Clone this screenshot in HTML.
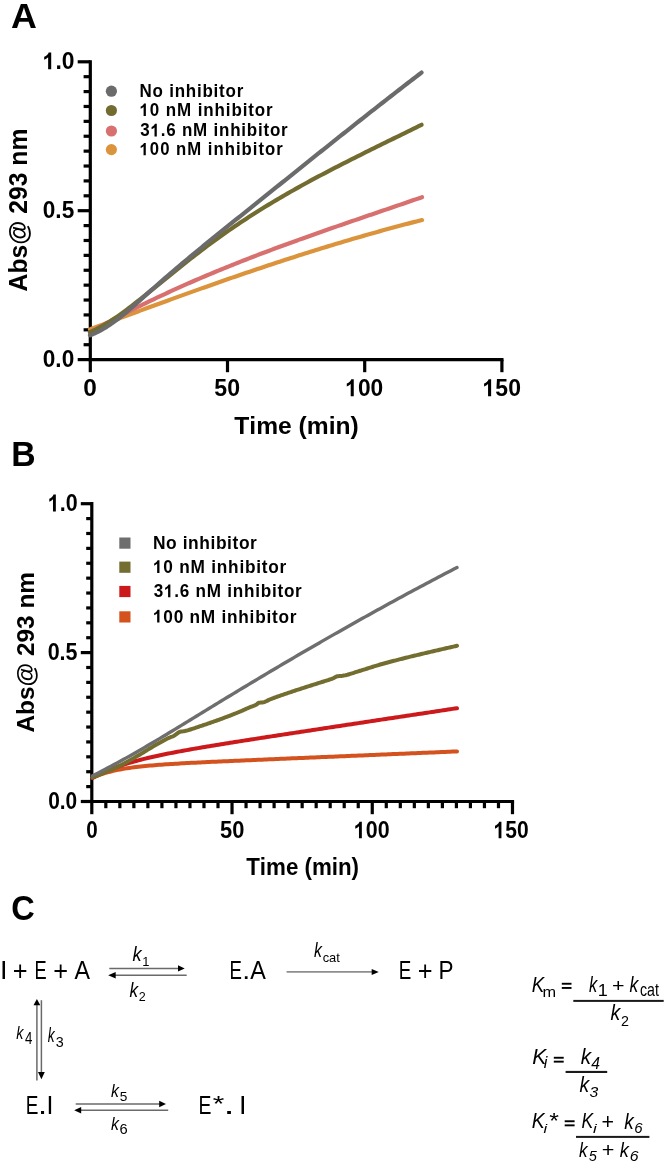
<!DOCTYPE html>
<html><head><meta charset="utf-8"><style>
html,body{margin:0;padding:0;background:#fff;}
svg{display:block;font-family:"Liberation Sans",sans-serif;will-change:transform;font-kerning:none;}
</style></head><body>
<svg width="667" height="1164" viewBox="0 0 667 1164">
<rect width="667" height="1164" fill="#fff"/>
<g id="A">
<text transform="translate(11.10,27.70) scale(1.0435,1)" font-size="34.33" font-weight="bold" font-style="normal" fill="#000">A</text>
<line x1="90.3" y1="60.20" x2="90.3" y2="361.20" stroke="#000" stroke-width="3.2"/>
<line x1="88.7" y1="359.6" x2="503.50" y2="359.6" stroke="#000" stroke-width="3.2"/>
<line x1="77.7" y1="359.60" x2="90.3" y2="359.60" stroke="#000" stroke-width="3.2"/>
<line x1="83.6" y1="344.71" x2="90.3" y2="344.71" stroke="#000" stroke-width="3.2"/>
<line x1="83.6" y1="329.82" x2="90.3" y2="329.82" stroke="#000" stroke-width="3.2"/>
<line x1="83.6" y1="314.93" x2="90.3" y2="314.93" stroke="#000" stroke-width="3.2"/>
<line x1="83.6" y1="300.04" x2="90.3" y2="300.04" stroke="#000" stroke-width="3.2"/>
<line x1="83.6" y1="285.15" x2="90.3" y2="285.15" stroke="#000" stroke-width="3.2"/>
<line x1="83.6" y1="270.26" x2="90.3" y2="270.26" stroke="#000" stroke-width="3.2"/>
<line x1="83.6" y1="255.37" x2="90.3" y2="255.37" stroke="#000" stroke-width="3.2"/>
<line x1="83.6" y1="240.48" x2="90.3" y2="240.48" stroke="#000" stroke-width="3.2"/>
<line x1="83.6" y1="225.59" x2="90.3" y2="225.59" stroke="#000" stroke-width="3.2"/>
<line x1="77.7" y1="210.70" x2="90.3" y2="210.70" stroke="#000" stroke-width="3.2"/>
<line x1="83.6" y1="195.81" x2="90.3" y2="195.81" stroke="#000" stroke-width="3.2"/>
<line x1="83.6" y1="180.92" x2="90.3" y2="180.92" stroke="#000" stroke-width="3.2"/>
<line x1="83.6" y1="166.03" x2="90.3" y2="166.03" stroke="#000" stroke-width="3.2"/>
<line x1="83.6" y1="151.14" x2="90.3" y2="151.14" stroke="#000" stroke-width="3.2"/>
<line x1="83.6" y1="136.25" x2="90.3" y2="136.25" stroke="#000" stroke-width="3.2"/>
<line x1="83.6" y1="121.36" x2="90.3" y2="121.36" stroke="#000" stroke-width="3.2"/>
<line x1="83.6" y1="106.47" x2="90.3" y2="106.47" stroke="#000" stroke-width="3.2"/>
<line x1="83.6" y1="91.58" x2="90.3" y2="91.58" stroke="#000" stroke-width="3.2"/>
<line x1="83.6" y1="76.69" x2="90.3" y2="76.69" stroke="#000" stroke-width="3.2"/>
<line x1="77.7" y1="61.80" x2="90.3" y2="61.80" stroke="#000" stroke-width="3.2"/>
<line x1="90.30" y1="359.6" x2="90.30" y2="372.2" stroke="#000" stroke-width="3.2"/>
<line x1="227.50" y1="359.6" x2="227.50" y2="372.2" stroke="#000" stroke-width="3.2"/>
<line x1="364.70" y1="359.6" x2="364.70" y2="372.2" stroke="#000" stroke-width="3.2"/>
<line x1="501.90" y1="359.6" x2="501.90" y2="372.2" stroke="#000" stroke-width="3.2"/>
<g transform="translate(42.67,69.36) scale(0.9480,1)" fill="#000">
<text font-size="24.17" font-weight="bold" font-style="normal"> .0</text>
<path transform="translate(0.000,0) scale(0.01180,-0.01180)" d="M763,0 L489,0 L489,1032 C389,938 270,868 135,825 L135,1073 C206,1096 283,1140 368,1206 C452,1272 510,1348 541,1434 L763,1434 Z"/>
</g>
<text transform="translate(42.80,218.45) scale(0.9193,1)" font-size="24.59" font-weight="bold" font-style="normal" fill="#000">0.5</text>
<text transform="translate(42.80,367.46) scale(0.9404,1)" font-size="24.03" font-weight="bold" font-style="normal" fill="#000">0.0</text>
<text transform="translate(83.22,396.16) scale(1.0163,1)" font-size="24.03" font-weight="bold" font-style="normal" fill="#000">0</text>
<text transform="translate(214.35,396.16) scale(0.9627,1)" font-size="24.03" font-weight="bold" font-style="normal" fill="#000">50</text>
<g transform="translate(345.28,396.16) scale(0.9467,1)" fill="#000">
<text font-size="24.03" font-weight="bold" font-style="normal"> 00</text>
<path transform="translate(0.000,0) scale(0.01173,-0.01173)" d="M763,0 L489,0 L489,1032 C389,938 270,868 135,825 L135,1073 C206,1096 283,1140 368,1206 C452,1272 510,1348 541,1434 L763,1434 Z"/>
</g>
<g transform="translate(482.56,396.16) scale(0.9573,1)" fill="#000">
<text font-size="24.03" font-weight="bold" font-style="normal"> 50</text>
<path transform="translate(0.000,0) scale(0.01173,-0.01173)" d="M763,0 L489,0 L489,1032 C389,938 270,868 135,825 L135,1073 C206,1096 283,1140 368,1206 C452,1272 510,1348 541,1434 L763,1434 Z"/>
</g>
<text transform="translate(234.29,434.20) scale(1.0145,1)" font-size="24.29" font-weight="bold" font-style="normal" fill="#000">Time (min)</text>
<text transform="translate(27.00,291.42) rotate(-90) scale(0.9445,1)" font-size="26.18" font-weight="bold" font-style="normal">Abs@ 293 nm</text>
<circle cx="111.4" cy="91.2" r="5.6" fill="#6b6b6b"/>
<text transform="translate(139.45,96.90) scale(0.9500,1)" font-size="17.89" font-weight="bold" font-style="normal" fill="#000" letter-spacing="0.818">No inhibitor</text>
<circle cx="111.4" cy="110.5" r="5.6" fill="#726c30"/>
<g transform="translate(139.54,116.00) scale(0.9500,1)" fill="#000">
<text font-size="17.89" font-weight="bold" font-style="normal" letter-spacing="0.927"> 0 nM inhibitor</text>
<path transform="translate(0.000,0) scale(0.00874,-0.00874)" d="M763,0 L489,0 L489,1032 C389,938 270,868 135,825 L135,1073 C206,1096 283,1140 368,1206 C452,1272 510,1348 541,1434 L763,1434 Z"/>
</g>
<circle cx="111.4" cy="131" r="5.6" fill="#d87070"/>
<g transform="translate(140.22,136.40) scale(0.9500,1)" fill="#000">
<text font-size="17.89" font-weight="bold" font-style="normal" letter-spacing="0.822">3 .6 nM inhibitor</text>
<path transform="translate(10.773,0) scale(0.00874,-0.00874)" d="M763,0 L489,0 L489,1032 C389,938 270,868 135,825 L135,1073 C206,1096 283,1140 368,1206 C452,1272 510,1348 541,1434 L763,1434 Z"/>
</g>
<circle cx="111.4" cy="149.6" r="5.6" fill="#dc943c"/>
<g transform="translate(139.56,155.20) scale(0.9500,1)" fill="#000">
<text font-size="17.60" font-weight="bold" font-style="normal" letter-spacing="1.052"> 00 nM inhibitor</text>
<path transform="translate(0.000,0) scale(0.00859,-0.00859)" d="M763,0 L489,0 L489,1032 C389,938 270,868 135,825 L135,1073 C206,1096 283,1140 368,1206 C452,1272 510,1348 541,1434 L763,1434 Z"/>
</g>
<path d="M90.00,329.35 L92.79,328.30 L95.58,327.26 L98.37,326.21 L101.16,325.16 L103.95,324.12 L106.74,323.07 L109.53,322.03 L112.32,320.99 L115.11,319.95 L117.90,318.91 L120.69,317.87 L123.48,316.83 L126.27,315.79 L129.06,314.76 L131.85,313.72 L134.64,312.69 L137.43,311.66 L140.22,310.63 L143.01,309.60 L145.80,308.57 L148.59,307.55 L151.38,306.52 L154.17,305.50 L156.96,304.48 L159.75,303.46 L162.54,302.44 L165.33,301.42 L168.12,300.41 L170.91,299.40 L173.70,298.39 L176.49,297.38 L179.28,296.37 L182.07,295.37 L184.86,294.36 L187.65,293.36 L190.44,292.36 L193.23,291.37 L196.02,290.37 L198.81,289.38 L201.60,288.39 L204.39,287.40 L207.18,286.41 L209.97,285.43 L212.76,284.45 L215.55,283.47 L218.34,282.49 L221.13,281.52 L223.92,280.54 L226.71,279.57 L229.50,278.61 L232.29,277.64 L235.08,276.68 L237.87,275.72 L240.66,274.77 L243.45,273.81 L246.24,272.86 L249.03,271.91 L251.82,270.97 L254.61,270.02 L257.39,269.08 L260.18,268.15 L262.97,267.21 L265.76,266.28 L268.55,265.36 L271.34,264.43 L274.13,263.51 L276.92,262.59 L279.71,261.67 L282.50,260.76 L285.29,259.85 L288.08,258.95 L290.87,258.05 L293.66,257.15 L296.45,256.25 L299.24,255.36 L302.03,254.47 L304.82,253.58 L307.61,252.70 L310.40,251.82 L313.19,250.95 L315.98,250.08 L318.77,249.21 L321.56,248.35 L324.35,247.49 L327.14,246.63 L329.93,245.78 L332.72,244.93 L335.51,244.09 L338.30,243.24 L341.09,242.41 L343.88,241.57 L346.67,240.75 L349.46,239.92 L352.25,239.10 L355.04,238.28 L357.83,237.47 L360.62,236.66 L363.41,235.86 L366.20,235.06 L368.99,234.26 L371.78,233.47 L374.57,232.69 L377.36,231.90 L380.15,231.13 L382.94,230.35 L385.73,229.59 L388.52,228.82 L391.31,228.06 L394.10,227.31 L396.89,226.56 L399.68,225.81 L402.47,225.07 L405.26,224.33 L408.05,223.60 L410.84,222.88 L413.63,222.15 L416.42,221.44 L419.21,220.73 L422.00,220.02" fill="none" stroke="#dc943c" stroke-width="4.2" stroke-linejoin="round" stroke-linecap="round"/>
<path d="M90.00,332.35 L92.79,330.78 L95.58,329.22 L98.37,327.68 L101.16,326.15 L103.95,324.62 L106.74,323.11 L109.53,321.61 L112.32,320.12 L115.11,318.65 L117.90,317.18 L120.69,315.72 L123.48,314.28 L126.27,312.84 L129.06,311.42 L131.85,310.00 L134.64,308.60 L137.43,307.20 L140.22,305.82 L143.01,304.45 L145.80,303.08 L148.59,301.72 L151.38,300.38 L154.17,299.04 L156.96,297.72 L159.75,296.40 L162.54,295.09 L165.33,293.79 L168.12,292.50 L170.91,291.21 L173.70,289.94 L176.49,288.67 L179.28,287.42 L182.07,286.17 L184.86,284.93 L187.65,283.69 L190.44,282.47 L193.23,281.25 L196.02,280.04 L198.81,278.84 L201.60,277.65 L204.39,276.46 L207.18,275.28 L209.97,274.11 L212.76,272.94 L215.55,271.78 L218.34,270.63 L221.13,269.48 L223.92,268.34 L226.71,267.21 L229.50,266.08 L232.29,264.96 L235.08,263.85 L237.87,262.74 L240.66,261.64 L243.45,260.54 L246.24,259.45 L249.03,258.37 L251.82,257.29 L254.61,256.21 L257.39,255.14 L260.18,254.08 L262.97,253.02 L265.76,251.97 L268.55,250.92 L271.34,249.87 L274.13,248.83 L276.92,247.80 L279.71,246.76 L282.50,245.74 L285.29,244.71 L288.08,243.69 L290.87,242.68 L293.66,241.67 L296.45,240.66 L299.24,239.65 L302.03,238.65 L304.82,237.65 L307.61,236.66 L310.40,235.67 L313.19,234.68 L315.98,233.69 L318.77,232.71 L321.56,231.73 L324.35,230.75 L327.14,229.77 L329.93,228.80 L332.72,227.83 L335.51,226.86 L338.30,225.89 L341.09,224.93 L343.88,223.96 L346.67,223.00 L349.46,222.04 L352.25,221.08 L355.04,220.12 L357.83,219.17 L360.62,218.21 L363.41,217.25 L366.20,216.30 L368.99,215.35 L371.78,214.39 L374.57,213.44 L377.36,212.49 L380.15,211.54 L382.94,210.59 L385.73,209.63 L388.52,208.68 L391.31,207.73 L394.10,206.78 L396.89,205.83 L399.68,204.87 L402.47,203.92 L405.26,202.96 L408.05,202.01 L410.84,201.05 L413.63,200.09 L416.42,199.13 L419.21,198.17 L422.00,197.21" fill="none" stroke="#d87070" stroke-width="4.2" stroke-linejoin="round" stroke-linecap="round"/>
<path d="M90.00,332.18 L92.79,330.93 L95.57,329.59 L98.36,328.16 L101.14,326.65 L103.93,325.07 L106.71,323.41 L109.50,321.68 L112.29,319.88 L115.07,318.03 L117.86,316.12 L120.64,314.16 L123.43,312.14 L126.21,310.09 L129.00,308.00 L131.79,305.87 L134.57,303.71 L137.36,301.52 L140.14,299.31 L142.93,297.08 L145.71,294.84 L148.50,292.59 L151.29,290.33 L154.07,288.07 L156.86,285.81 L159.64,283.55 L162.43,281.29 L165.21,279.03 L168.00,276.78 L170.79,274.52 L173.57,272.28 L176.36,270.04 L179.14,267.81 L181.93,265.58 L184.71,263.37 L187.50,261.17 L190.29,258.97 L193.07,256.80 L195.86,254.63 L198.64,252.49 L201.43,250.35 L204.21,248.24 L207.00,246.15 L209.79,244.07 L212.57,242.02 L215.36,239.98 L218.14,237.97 L220.93,235.98 L223.71,234.00 L226.50,232.05 L229.29,230.12 L232.07,228.20 L234.86,226.31 L237.64,224.43 L240.43,222.57 L243.21,220.73 L246.00,218.90 L248.79,217.09 L251.57,215.30 L254.36,213.53 L257.14,211.77 L259.93,210.02 L262.71,208.30 L265.50,206.58 L268.29,204.88 L271.07,203.20 L273.86,201.53 L276.64,199.88 L279.43,198.23 L282.21,196.60 L285.00,194.99 L287.79,193.38 L290.57,191.79 L293.36,190.21 L296.14,188.64 L298.93,187.09 L301.71,185.54 L304.50,184.00 L307.29,182.48 L310.07,180.96 L312.86,179.46 L315.64,177.96 L318.43,176.47 L321.21,174.99 L324.00,173.52 L326.79,172.06 L329.57,170.60 L332.36,169.16 L335.14,167.71 L337.93,166.28 L340.71,164.85 L343.50,163.43 L346.29,162.01 L349.07,160.60 L351.86,159.20 L354.64,157.80 L357.43,156.40 L360.21,155.01 L363.00,153.62 L365.79,152.24 L368.57,150.85 L371.36,149.47 L374.14,148.10 L376.93,146.72 L379.71,145.35 L382.50,143.98 L385.29,142.61 L388.07,141.24 L390.86,139.87 L393.64,138.51 L396.43,137.14 L399.21,135.77 L402.00,134.40 L404.79,133.03 L407.57,131.66 L410.36,130.28 L413.14,128.91 L415.93,127.53 L418.71,126.15 L421.50,124.77" fill="none" stroke="#726c30" stroke-width="4.2" stroke-linejoin="round" stroke-linecap="round"/>
<path d="M90.00,335.25 L92.79,334.19 L95.57,332.98 L98.36,331.63 L101.14,330.15 L103.93,328.55 L106.71,326.84 L109.50,325.01 L112.29,323.09 L115.07,321.08 L117.86,318.98 L120.64,316.81 L123.43,314.57 L126.21,312.27 L129.00,309.92 L131.79,307.52 L134.57,305.09 L137.36,302.63 L140.14,300.14 L142.93,297.65 L145.71,295.15 L148.50,292.65 L151.29,290.17 L154.07,287.70 L156.86,285.24 L159.64,282.80 L162.43,280.37 L165.21,277.95 L168.00,275.55 L170.79,273.15 L173.57,270.77 L176.36,268.40 L179.14,266.05 L181.93,263.70 L184.71,261.36 L187.50,259.03 L190.29,256.71 L193.07,254.40 L195.86,252.10 L198.64,249.81 L201.43,247.52 L204.21,245.24 L207.00,242.96 L209.79,240.70 L212.57,238.43 L215.36,236.18 L218.14,233.92 L220.93,231.68 L223.71,229.43 L226.50,227.19 L229.29,224.95 L232.07,222.71 L234.86,220.48 L237.64,218.25 L240.43,216.02 L243.21,213.78 L246.00,211.55 L248.79,209.32 L251.57,207.09 L254.36,204.86 L257.14,202.63 L259.93,200.39 L262.71,198.16 L265.50,195.92 L268.29,193.69 L271.07,191.45 L273.86,189.22 L276.64,186.98 L279.43,184.75 L282.21,182.51 L285.00,180.27 L287.79,178.04 L290.57,175.80 L293.36,173.57 L296.14,171.33 L298.93,169.10 L301.71,166.87 L304.50,164.63 L307.29,162.40 L310.07,160.17 L312.86,157.94 L315.64,155.71 L318.43,153.48 L321.21,151.26 L324.00,149.03 L326.79,146.81 L329.57,144.58 L332.36,142.36 L335.14,140.14 L337.93,137.93 L340.71,135.71 L343.50,133.50 L346.29,131.28 L349.07,129.07 L351.86,126.86 L354.64,124.66 L357.43,122.45 L360.21,120.25 L363.00,118.05 L365.79,115.86 L368.57,113.66 L371.36,111.47 L374.14,109.28 L376.93,107.10 L379.71,104.92 L382.50,102.74 L385.29,100.56 L388.07,98.39 L390.86,96.22 L393.64,94.05 L396.43,91.89 L399.21,89.73 L402.00,87.57 L404.79,85.42 L407.57,83.27 L410.36,81.13 L413.14,78.98 L415.93,76.85 L418.71,74.72 L421.50,72.59" fill="none" stroke="#6b6b6b" stroke-width="4.2" stroke-linejoin="round" stroke-linecap="round"/>
</g>
<g id="B">
<text transform="translate(11.22,465.90) scale(0.9674,1)" font-size="34.91" font-weight="bold" font-style="normal" fill="#000">B</text>
<line x1="91.8" y1="502.10" x2="91.8" y2="803.10" stroke="#000" stroke-width="3.2"/>
<line x1="90.2" y1="801.5" x2="514.09" y2="801.5" stroke="#000" stroke-width="3.2"/>
<line x1="80.8" y1="801.50" x2="91.8" y2="801.50" stroke="#000" stroke-width="3.2"/>
<line x1="86.2" y1="786.61" x2="91.8" y2="786.61" stroke="#000" stroke-width="3.2"/>
<line x1="86.2" y1="771.72" x2="91.8" y2="771.72" stroke="#000" stroke-width="3.2"/>
<line x1="86.2" y1="756.83" x2="91.8" y2="756.83" stroke="#000" stroke-width="3.2"/>
<line x1="86.2" y1="741.94" x2="91.8" y2="741.94" stroke="#000" stroke-width="3.2"/>
<line x1="86.2" y1="727.05" x2="91.8" y2="727.05" stroke="#000" stroke-width="3.2"/>
<line x1="86.2" y1="712.16" x2="91.8" y2="712.16" stroke="#000" stroke-width="3.2"/>
<line x1="86.2" y1="697.27" x2="91.8" y2="697.27" stroke="#000" stroke-width="3.2"/>
<line x1="86.2" y1="682.38" x2="91.8" y2="682.38" stroke="#000" stroke-width="3.2"/>
<line x1="86.2" y1="667.49" x2="91.8" y2="667.49" stroke="#000" stroke-width="3.2"/>
<line x1="80.8" y1="652.60" x2="91.8" y2="652.60" stroke="#000" stroke-width="3.2"/>
<line x1="86.2" y1="637.71" x2="91.8" y2="637.71" stroke="#000" stroke-width="3.2"/>
<line x1="86.2" y1="622.82" x2="91.8" y2="622.82" stroke="#000" stroke-width="3.2"/>
<line x1="86.2" y1="607.93" x2="91.8" y2="607.93" stroke="#000" stroke-width="3.2"/>
<line x1="86.2" y1="593.04" x2="91.8" y2="593.04" stroke="#000" stroke-width="3.2"/>
<line x1="86.2" y1="578.15" x2="91.8" y2="578.15" stroke="#000" stroke-width="3.2"/>
<line x1="86.2" y1="563.26" x2="91.8" y2="563.26" stroke="#000" stroke-width="3.2"/>
<line x1="86.2" y1="548.37" x2="91.8" y2="548.37" stroke="#000" stroke-width="3.2"/>
<line x1="86.2" y1="533.48" x2="91.8" y2="533.48" stroke="#000" stroke-width="3.2"/>
<line x1="86.2" y1="518.59" x2="91.8" y2="518.59" stroke="#000" stroke-width="3.2"/>
<line x1="80.8" y1="503.70" x2="91.8" y2="503.70" stroke="#000" stroke-width="3.2"/>
<line x1="91.80" y1="801.5" x2="91.80" y2="814.2" stroke="#000" stroke-width="3.2"/>
<line x1="105.82" y1="801.5" x2="105.82" y2="808.2" stroke="#000" stroke-width="3.2"/>
<line x1="119.85" y1="801.5" x2="119.85" y2="808.2" stroke="#000" stroke-width="3.2"/>
<line x1="133.87" y1="801.5" x2="133.87" y2="808.2" stroke="#000" stroke-width="3.2"/>
<line x1="147.89" y1="801.5" x2="147.89" y2="808.2" stroke="#000" stroke-width="3.2"/>
<line x1="161.92" y1="801.5" x2="161.92" y2="808.2" stroke="#000" stroke-width="3.2"/>
<line x1="175.94" y1="801.5" x2="175.94" y2="808.2" stroke="#000" stroke-width="3.2"/>
<line x1="189.96" y1="801.5" x2="189.96" y2="808.2" stroke="#000" stroke-width="3.2"/>
<line x1="203.98" y1="801.5" x2="203.98" y2="808.2" stroke="#000" stroke-width="3.2"/>
<line x1="218.01" y1="801.5" x2="218.01" y2="808.2" stroke="#000" stroke-width="3.2"/>
<line x1="232.03" y1="801.5" x2="232.03" y2="814.2" stroke="#000" stroke-width="3.2"/>
<line x1="246.05" y1="801.5" x2="246.05" y2="808.2" stroke="#000" stroke-width="3.2"/>
<line x1="260.08" y1="801.5" x2="260.08" y2="808.2" stroke="#000" stroke-width="3.2"/>
<line x1="274.10" y1="801.5" x2="274.10" y2="808.2" stroke="#000" stroke-width="3.2"/>
<line x1="288.12" y1="801.5" x2="288.12" y2="808.2" stroke="#000" stroke-width="3.2"/>
<line x1="302.15" y1="801.5" x2="302.15" y2="808.2" stroke="#000" stroke-width="3.2"/>
<line x1="316.17" y1="801.5" x2="316.17" y2="808.2" stroke="#000" stroke-width="3.2"/>
<line x1="330.19" y1="801.5" x2="330.19" y2="808.2" stroke="#000" stroke-width="3.2"/>
<line x1="344.21" y1="801.5" x2="344.21" y2="808.2" stroke="#000" stroke-width="3.2"/>
<line x1="358.24" y1="801.5" x2="358.24" y2="808.2" stroke="#000" stroke-width="3.2"/>
<line x1="372.26" y1="801.5" x2="372.26" y2="814.2" stroke="#000" stroke-width="3.2"/>
<line x1="386.28" y1="801.5" x2="386.28" y2="808.2" stroke="#000" stroke-width="3.2"/>
<line x1="400.31" y1="801.5" x2="400.31" y2="808.2" stroke="#000" stroke-width="3.2"/>
<line x1="414.33" y1="801.5" x2="414.33" y2="808.2" stroke="#000" stroke-width="3.2"/>
<line x1="428.35" y1="801.5" x2="428.35" y2="808.2" stroke="#000" stroke-width="3.2"/>
<line x1="442.38" y1="801.5" x2="442.38" y2="808.2" stroke="#000" stroke-width="3.2"/>
<line x1="456.40" y1="801.5" x2="456.40" y2="808.2" stroke="#000" stroke-width="3.2"/>
<line x1="470.42" y1="801.5" x2="470.42" y2="808.2" stroke="#000" stroke-width="3.2"/>
<line x1="484.44" y1="801.5" x2="484.44" y2="808.2" stroke="#000" stroke-width="3.2"/>
<line x1="498.47" y1="801.5" x2="498.47" y2="808.2" stroke="#000" stroke-width="3.2"/>
<line x1="512.49" y1="801.5" x2="512.49" y2="814.2" stroke="#000" stroke-width="3.2"/>
<g transform="translate(47.86,511.46) scale(0.8818,1)" fill="#000">
<text font-size="24.31" font-weight="bold" font-style="normal"> .0</text>
<path transform="translate(0.000,0) scale(0.01187,-0.01187)" d="M763,0 L489,0 L489,1032 C389,938 270,868 135,825 L135,1073 C206,1096 283,1140 368,1206 C452,1272 510,1348 541,1434 L763,1434 Z"/>
</g>
<text transform="translate(47.64,659.96) scale(0.9098,1)" font-size="23.60" font-weight="bold" font-style="normal" fill="#000">0.5</text>
<text transform="translate(48.16,809.06) scale(0.8808,1)" font-size="23.75" font-weight="bold" font-style="normal" fill="#000">0.0</text>
<text transform="translate(86.37,838.36) scale(0.8637,1)" font-size="23.89" font-weight="bold" font-style="normal" fill="#000">0</text>
<text transform="translate(220.09,838.36) scale(0.9160,1)" font-size="23.89" font-weight="bold" font-style="normal" fill="#000">50</text>
<g transform="translate(353.86,838.36) scale(0.8961,1)" fill="#000">
<text font-size="23.89" font-weight="bold" font-style="normal"> 00</text>
<path transform="translate(0.000,0) scale(0.01166,-0.01166)" d="M763,0 L489,0 L489,1032 C389,938 270,868 135,825 L135,1073 C206,1096 283,1140 368,1206 C452,1272 510,1348 541,1434 L763,1434 Z"/>
</g>
<g transform="translate(493.59,838.36) scale(0.8801,1)" fill="#000">
<text font-size="23.89" font-weight="bold" font-style="normal"> 50</text>
<path transform="translate(0.000,0) scale(0.01166,-0.01166)" d="M763,0 L489,0 L489,1032 C389,938 270,868 135,825 L135,1073 C206,1096 283,1140 368,1206 C452,1272 510,1348 541,1434 L763,1434 Z"/>
</g>
<text transform="translate(246.22,875.30) scale(0.9085,1)" font-size="24.58" font-weight="bold" font-style="normal" fill="#000">Time (min)</text>
<text transform="translate(33.50,732.61) rotate(-90) scale(1.0035,1)" font-size="24.29" font-weight="bold" font-style="normal">Abs@ 293 nm</text>
<rect x="119.30" y="537.50" width="11.2" height="11.2" fill="#6e6e6e"/>
<text transform="translate(152.92,549.00) scale(0.9500,1)" font-size="18.33" font-weight="bold" font-style="normal" fill="#000" letter-spacing="0.609">No inhibitor</text>
<rect x="119.30" y="561.60" width="11.2" height="11.2" fill="#736d30"/>
<g transform="translate(153.02,573.00) scale(0.9500,1)" fill="#000">
<text font-size="18.18" font-weight="bold" font-style="normal" letter-spacing="0.796"> 0 nM inhibitor</text>
<path transform="translate(0.000,0) scale(0.00888,-0.00888)" d="M763,0 L489,0 L489,1032 C389,938 270,868 135,825 L135,1073 C206,1096 283,1140 368,1206 C452,1272 510,1348 541,1434 L763,1434 Z"/>
</g>
<rect x="119.30" y="585.90" width="11.2" height="11.2" fill="#cc1a1c"/>
<g transform="translate(153.71,597.20) scale(0.9500,1)" fill="#000">
<text font-size="18.04" font-weight="bold" font-style="normal" letter-spacing="0.790">3 .6 nM inhibitor</text>
<path transform="translate(10.821,0) scale(0.00881,-0.00881)" d="M763,0 L489,0 L489,1032 C389,938 270,868 135,825 L135,1073 C206,1096 283,1140 368,1206 C452,1272 510,1348 541,1434 L763,1434 Z"/>
</g>
<rect x="119.30" y="611.30" width="11.2" height="11.2" fill="#d4521e"/>
<g transform="translate(153.02,622.60) scale(0.9500,1)" fill="#000">
<text font-size="18.18" font-weight="bold" font-style="normal" letter-spacing="0.779"> 00 nM inhibitor</text>
<path transform="translate(0.000,0) scale(0.00888,-0.00888)" d="M763,0 L489,0 L489,1032 C389,938 270,868 135,825 L135,1073 C206,1096 283,1140 368,1206 C452,1272 510,1348 541,1434 L763,1434 Z"/>
</g>
<path d="M92.60,777.72 L94.89,776.70 L97.18,775.77 L99.48,774.90 L101.77,774.10 L104.06,773.36 L106.35,772.67 L108.64,772.03 L110.93,771.44 L113.23,770.89 L115.52,770.37 L117.81,769.89 L120.10,769.45 L122.39,769.03 L124.69,768.64 L126.98,768.27 L129.27,767.93 L131.56,767.61 L133.85,767.30 L136.14,767.02 L138.44,766.74 L140.73,766.49 L143.02,766.25 L145.31,766.02 L147.60,765.80 L149.90,765.59 L152.19,765.39 L154.48,765.20 L156.77,765.01 L159.06,764.84 L161.35,764.67 L163.65,764.50 L165.94,764.35 L168.23,764.19 L170.52,764.05 L172.81,763.90 L175.11,763.76 L177.40,763.63 L179.69,763.49 L181.98,763.37 L184.27,763.24 L186.56,763.11 L188.86,762.99 L191.15,762.87 L193.44,762.75 L195.73,762.64 L198.02,762.52 L200.32,762.41 L202.61,762.30 L204.90,762.19 L207.19,762.08 L209.48,761.97 L211.77,761.86 L214.07,761.76 L216.36,761.65 L218.65,761.55 L220.94,761.44 L223.23,761.34 L225.53,761.24 L227.82,761.13 L230.11,761.03 L232.40,760.93 L234.69,760.83 L236.98,760.73 L239.28,760.63 L241.57,760.53 L243.86,760.43 L246.15,760.33 L248.44,760.23 L250.74,760.13 L253.03,760.03 L255.32,759.94 L257.61,759.84 L259.90,759.74 L262.19,759.64 L264.49,759.54 L266.78,759.45 L269.07,759.35 L271.36,759.25 L273.65,759.15 L275.95,759.05 L278.24,758.96 L280.53,758.86 L282.82,758.76 L285.11,758.67 L287.41,758.57 L289.70,758.47 L291.99,758.37 L294.28,758.28 L296.57,758.18 L298.86,758.08 L301.16,757.99 L303.45,757.89 L305.74,757.79 L308.03,757.70 L310.32,757.60 L312.62,757.50 L314.91,757.41 L317.20,757.31 L319.49,757.21 L321.78,757.12 L324.07,757.02 L326.37,756.92 L328.66,756.83 L330.95,756.73 L333.24,756.63 L335.53,756.54 L337.83,756.44 L340.12,756.34 L342.41,756.25 L344.70,756.15 L346.99,756.05 L349.28,755.96 L351.58,755.86 L353.87,755.76 L356.16,755.67 L358.45,755.57 L360.74,755.47 L363.04,755.38 L365.33,755.28 L367.62,755.18 L369.91,755.09 L372.20,754.99 L374.49,754.89 L376.79,754.80 L379.08,754.70 L381.37,754.61 L383.66,754.51 L385.95,754.41 L388.25,754.32 L390.54,754.22 L392.83,754.12 L395.12,754.03 L397.41,753.93 L399.70,753.83 L402.00,753.74 L404.29,753.64 L406.58,753.54 L408.87,753.45 L411.16,753.35 L413.46,753.25 L415.75,753.16 L418.04,753.06 L420.33,752.96 L422.62,752.87 L424.91,752.77 L427.21,752.67 L429.50,752.58 L431.79,752.48 L434.08,752.38 L436.37,752.29 L438.67,752.19 L440.96,752.10 L443.25,752.00 L445.54,751.90 L447.83,751.81 L450.12,751.71 L452.42,751.61 L454.71,751.52 L457.00,751.42" fill="none" stroke="#d4521e" stroke-width="4.0" stroke-linejoin="round" stroke-linecap="round"/>
<path d="M92.60,778.03 L94.89,776.74 L97.18,775.52 L99.48,774.35 L101.77,773.24 L104.06,772.17 L106.35,771.15 L108.64,770.17 L110.93,769.24 L113.23,768.34 L115.52,767.47 L117.81,766.64 L120.10,765.84 L122.39,765.07 L124.69,764.32 L126.98,763.60 L129.27,762.91 L131.56,762.24 L133.85,761.58 L136.14,760.95 L138.44,760.34 L140.73,759.74 L143.02,759.16 L145.31,758.59 L147.60,758.04 L149.90,757.50 L152.19,756.97 L154.48,756.46 L156.77,755.95 L159.06,755.46 L161.35,754.97 L163.65,754.50 L165.94,754.03 L168.23,753.57 L170.52,753.11 L172.81,752.67 L175.11,752.23 L177.40,751.79 L179.69,751.36 L181.98,750.94 L184.27,750.52 L186.56,750.11 L188.86,749.70 L191.15,749.29 L193.44,748.89 L195.73,748.49 L198.02,748.10 L200.32,747.71 L202.61,747.32 L204.90,746.93 L207.19,746.55 L209.48,746.17 L211.77,745.79 L214.07,745.41 L216.36,745.03 L218.65,744.66 L220.94,744.29 L223.23,743.92 L225.53,743.55 L227.82,743.18 L230.11,742.82 L232.40,742.45 L234.69,742.09 L236.98,741.72 L239.28,741.36 L241.57,741.00 L243.86,740.64 L246.15,740.28 L248.44,739.93 L250.74,739.57 L253.03,739.21 L255.32,738.86 L257.61,738.50 L259.90,738.14 L262.19,737.79 L264.49,737.44 L266.78,737.08 L269.07,736.73 L271.36,736.38 L273.65,736.02 L275.95,735.67 L278.24,735.32 L280.53,734.97 L282.82,734.62 L285.11,734.27 L287.41,733.92 L289.70,733.57 L291.99,733.22 L294.28,732.87 L296.57,732.52 L298.86,732.17 L301.16,731.82 L303.45,731.47 L305.74,731.12 L308.03,730.77 L310.32,730.42 L312.62,730.07 L314.91,729.72 L317.20,729.38 L319.49,729.03 L321.78,728.68 L324.07,728.33 L326.37,727.98 L328.66,727.64 L330.95,727.29 L333.24,726.94 L335.53,726.59 L337.83,726.24 L340.12,725.90 L342.41,725.55 L344.70,725.20 L346.99,724.85 L349.28,724.51 L351.58,724.16 L353.87,723.81 L356.16,723.46 L358.45,723.12 L360.74,722.77 L363.04,722.42 L365.33,722.07 L367.62,721.73 L369.91,721.38 L372.20,721.03 L374.49,720.69 L376.79,720.34 L379.08,719.99 L381.37,719.64 L383.66,719.30 L385.95,718.95 L388.25,718.60 L390.54,718.26 L392.83,717.91 L395.12,717.56 L397.41,717.21 L399.70,716.87 L402.00,716.52 L404.29,716.17 L406.58,715.83 L408.87,715.48 L411.16,715.13 L413.46,714.79 L415.75,714.44 L418.04,714.09 L420.33,713.74 L422.62,713.40 L424.91,713.05 L427.21,712.70 L429.50,712.36 L431.79,712.01 L434.08,711.66 L436.37,711.32 L438.67,710.97 L440.96,710.62 L443.25,710.28 L445.54,709.93 L447.83,709.58 L450.12,709.23 L452.42,708.89 L454.71,708.54 L457.00,708.19" fill="none" stroke="#cc1a1c" stroke-width="4.0" stroke-linejoin="round" stroke-linecap="round"/>
<path d="M92.60,777.50 L93.51,777.12 L94.43,776.73 L95.34,776.35 L96.25,775.97 L97.17,775.59 L98.08,775.20 L98.99,774.82 L99.91,774.44 L100.82,774.05 L101.73,773.67 L102.65,773.29 L103.56,772.90 L104.47,772.52 L105.39,772.14 L106.30,771.76 L107.21,771.39 L108.13,771.02 L109.04,770.65 L109.95,770.27 L110.87,769.90 L111.78,769.52 L112.69,769.13 L113.61,768.73 L114.52,768.32 L115.43,767.90 L116.35,767.46 L117.26,767.02 L118.17,766.57 L119.09,766.10 L120.00,765.63 L120.91,765.15 L121.83,764.67 L122.74,764.18 L123.65,763.69 L124.56,763.19 L125.48,762.69 L126.39,762.19 L127.30,761.68 L128.22,761.18 L129.13,760.68 L130.04,760.18 L130.96,759.67 L131.87,759.17 L132.78,758.66 L133.70,758.14 L134.61,757.63 L135.52,757.11 L136.44,756.58 L137.35,756.06 L138.26,755.52 L139.18,754.99 L140.09,754.45 L141.00,753.90 L141.92,753.34 L142.83,752.77 L143.74,752.19 L144.66,751.62 L145.57,751.04 L146.48,750.46 L147.40,749.89 L148.31,749.32 L149.22,748.77 L150.14,748.22 L151.05,747.68 L151.96,747.15 L152.88,746.62 L153.79,746.09 L154.70,745.57 L155.62,745.06 L156.53,744.54 L157.44,744.03 L158.36,743.52 L159.27,743.01 L160.18,742.50 L161.10,741.98 L162.01,741.47 L162.92,740.95 L163.84,740.45 L164.75,739.95 L165.66,739.47 L166.58,739.01 L167.49,738.56 L168.40,738.12 L169.32,737.70 L170.23,737.30 L171.14,736.95 L172.06,736.63 L172.97,736.28 L173.88,735.86 L174.80,735.29 L175.71,734.58 L176.62,733.86 L177.54,733.23 L178.45,732.58 L179.36,732.04 L180.28,731.74 L181.19,731.57 L182.10,731.46 L183.02,731.35 L183.93,731.21 L184.84,731.03 L185.75,730.81 L186.67,730.57 L187.58,730.31 L188.49,730.05 L189.41,729.77 L190.32,729.51 L191.23,729.23 L192.15,728.94 L193.06,728.65 L193.97,728.35 L194.89,728.04 L195.80,727.73 L196.71,727.42 L197.63,727.11 L198.54,726.79 L199.45,726.48 L200.37,726.18 L201.28,725.87 L202.19,725.56 L203.11,725.26 L204.02,724.95 L204.93,724.64 L205.85,724.33 L206.76,724.02 L207.67,723.71 L208.59,723.39 L209.50,723.07 L210.41,722.76 L211.33,722.44 L212.24,722.12 L213.15,721.79 L214.07,721.47 L214.98,721.15 L215.89,720.82 L216.81,720.50 L217.72,720.17 L218.63,719.84 L219.55,719.51 L220.46,719.18 L221.37,718.85 L222.29,718.51 L223.20,718.17 L224.11,717.83 L225.03,717.49 L225.94,717.15 L226.85,716.80 L227.77,716.45 L228.68,716.11 L229.59,715.76 L230.51,715.40 L231.42,715.05 L232.33,714.69 L233.25,714.33 L234.16,713.97 L235.07,713.61 L235.99,713.24 L236.90,712.87 L237.81,712.50 L238.73,712.13 L239.64,711.75 L240.55,711.37 L241.47,710.98 L242.38,710.58 L243.29,710.17 L244.21,709.76 L245.12,709.35 L246.03,708.94 L246.94,708.53 L247.86,708.12 L248.77,707.72 L249.68,707.33 L250.60,706.96 L251.51,706.61 L252.42,706.28 L253.34,705.95 L254.25,705.59 L255.16,705.20 L256.08,704.76 L256.99,704.10 L257.90,703.35 L258.82,702.84 L259.73,702.69 L260.64,702.61 L261.56,702.55 L262.47,702.47 L263.38,702.33 L264.30,702.07 L265.21,701.72 L266.12,701.30 L267.04,700.84 L267.95,700.36 L268.86,699.90 L269.78,699.49 L270.69,699.13 L271.60,698.78 L272.52,698.43 L273.43,698.08 L274.34,697.75 L275.26,697.41 L276.17,697.08 L277.08,696.76 L278.00,696.43 L278.91,696.11 L279.82,695.79 L280.74,695.47 L281.65,695.16 L282.56,694.84 L283.48,694.53 L284.39,694.21 L285.30,693.90 L286.22,693.58 L287.13,693.27 L288.04,692.96 L288.96,692.65 L289.87,692.34 L290.78,692.04 L291.70,691.73 L292.61,691.43 L293.52,691.13 L294.44,690.82 L295.35,690.52 L296.26,690.22 L297.18,689.92 L298.09,689.62 L299.00,689.33 L299.92,689.03 L300.83,688.73 L301.74,688.43 L302.66,688.14 L303.57,687.85 L304.48,687.55 L305.39,687.26 L306.31,686.97 L307.22,686.68 L308.13,686.39 L309.05,686.10 L309.96,685.82 L310.87,685.53 L311.79,685.24 L312.70,684.95 L313.61,684.66 L314.53,684.37 L315.44,684.08 L316.35,683.78 L317.27,683.49 L318.18,683.19 L319.09,682.90 L320.01,682.60 L320.92,682.30 L321.83,682.02 L322.75,681.73 L323.66,681.46 L324.57,681.18 L325.49,680.90 L326.40,680.62 L327.31,680.34 L328.23,680.04 L329.14,679.74 L330.05,679.43 L330.97,679.10 L331.88,678.76 L332.79,678.40 L333.71,678.03 L334.62,677.57 L335.53,676.97 L336.45,676.46 L337.36,676.26 L338.27,676.18 L339.19,676.12 L340.10,676.07 L341.01,676.00 L341.93,675.89 L342.84,675.75 L343.75,675.59 L344.67,675.41 L345.58,675.21 L346.49,674.98 L347.41,674.75 L348.32,674.49 L349.23,674.23 L350.15,673.95 L351.06,673.67 L351.97,673.37 L352.89,673.08 L353.80,672.77 L354.71,672.47 L355.63,672.17 L356.54,671.87 L357.45,671.58 L358.37,671.29 L359.28,671.01 L360.19,670.74 L361.11,670.48 L362.02,670.20 L362.93,669.92 L363.85,669.64 L364.76,669.36 L365.67,669.07 L366.58,668.78 L367.50,668.49 L368.41,668.20 L369.32,667.91 L370.24,667.61 L371.15,667.32 L372.06,667.03 L372.98,666.74 L373.89,666.45 L374.80,666.16 L375.72,665.88 L376.63,665.60 L377.54,665.32 L378.46,665.05 L379.37,664.78 L380.28,664.52 L381.20,664.26 L382.11,664.00 L383.02,663.75 L383.94,663.49 L384.85,663.24 L385.76,662.99 L386.68,662.74 L387.59,662.49 L388.50,662.25 L389.42,662.01 L390.33,661.76 L391.24,661.52 L392.16,661.28 L393.07,661.04 L393.98,660.81 L394.90,660.57 L395.81,660.33 L396.72,660.10 L397.64,659.86 L398.55,659.63 L399.46,659.40 L400.38,659.17 L401.29,658.94 L402.20,658.70 L403.12,658.47 L404.03,658.24 L404.94,658.01 L405.86,657.79 L406.77,657.56 L407.68,657.33 L408.60,657.10 L409.51,656.88 L410.42,656.66 L411.34,656.43 L412.25,656.21 L413.16,655.99 L414.08,655.77 L414.99,655.55 L415.90,655.33 L416.82,655.11 L417.73,654.89 L418.64,654.68 L419.56,654.46 L420.47,654.24 L421.38,654.03 L422.30,653.81 L423.21,653.60 L424.12,653.38 L425.04,653.17 L425.95,652.95 L426.86,652.74 L427.77,652.52 L428.69,652.31 L429.60,652.09 L430.51,651.88 L431.43,651.67 L432.34,651.45 L433.25,651.24 L434.17,651.02 L435.08,650.81 L435.99,650.60 L436.91,650.39 L437.82,650.18 L438.73,649.96 L439.65,649.75 L440.56,649.54 L441.47,649.33 L442.39,649.12 L443.30,648.91 L444.21,648.70 L445.13,648.49 L446.04,648.28 L446.95,648.07 L447.87,647.87 L448.78,647.66 L449.69,647.45 L450.61,647.24 L451.52,647.04 L452.43,646.83 L453.35,646.62 L454.26,646.42 L455.17,646.21 L456.09,646.00 L457.00,645.80" fill="none" stroke="#736d30" stroke-width="4.0" stroke-linejoin="round" stroke-linecap="round"/>
<path d="M92.60,775.74 L95.66,774.20 L98.72,772.65 L101.79,771.08 L104.85,769.48 L107.91,767.88 L110.97,766.25 L114.04,764.61 L117.10,762.95 L120.16,761.27 L123.22,759.58 L126.28,757.88 L129.35,756.16 L132.41,754.43 L135.47,752.68 L138.53,750.93 L141.59,749.16 L144.66,747.38 L147.72,745.59 L150.78,743.79 L153.84,741.98 L156.91,740.16 L159.97,738.34 L163.03,736.51 L166.09,734.67 L169.15,732.82 L172.22,730.97 L175.28,729.11 L178.34,727.25 L181.40,725.39 L184.47,723.52 L187.53,721.64 L190.59,719.77 L193.65,717.89 L196.71,716.02 L199.78,714.14 L202.84,712.26 L205.90,710.38 L208.96,708.51 L212.03,706.63 L215.09,704.76 L218.15,702.89 L221.21,701.02 L224.27,699.16 L227.34,697.30 L230.40,695.44 L233.46,693.58 L236.52,691.73 L239.58,689.88 L242.65,688.04 L245.71,686.19 L248.77,684.35 L251.83,682.52 L254.90,680.68 L257.96,678.85 L261.02,677.02 L264.08,675.20 L267.14,673.38 L270.21,671.56 L273.27,669.74 L276.33,667.93 L279.39,666.12 L282.46,664.32 L285.52,662.51 L288.58,660.71 L291.64,658.92 L294.70,657.13 L297.77,655.34 L300.83,653.55 L303.89,651.77 L306.95,649.99 L310.02,648.22 L313.08,646.44 L316.14,644.68 L319.20,642.91 L322.26,641.15 L325.33,639.39 L328.39,637.64 L331.45,635.89 L334.51,634.14 L337.57,632.40 L340.64,630.66 L343.70,628.92 L346.76,627.19 L349.82,625.46 L352.89,623.74 L355.95,622.02 L359.01,620.30 L362.07,618.59 L365.13,616.88 L368.20,615.17 L371.26,613.47 L374.32,611.77 L377.38,610.08 L380.45,608.39 L383.51,606.70 L386.57,605.02 L389.63,603.34 L392.69,601.67 L395.76,600.00 L398.82,598.33 L401.88,596.67 L404.94,595.02 L408.01,593.36 L411.07,591.71 L414.13,590.07 L417.19,588.43 L420.25,586.79 L423.32,585.16 L426.38,583.53 L429.44,581.91 L432.50,580.29 L435.56,578.67 L438.63,577.06 L441.69,575.45 L444.75,573.85 L447.81,572.26 L450.88,570.66 L453.94,569.07 L457.00,567.49" fill="none" stroke="#6e6e6e" stroke-width="3.4" stroke-linejoin="round" stroke-linecap="round"/>
</g>
<g id="C">
<text transform="translate(11.30,920.45) scale(0.9315,1)" font-size="34.91" font-weight="bold" font-style="normal" fill="#000">C</text>
<text transform="translate(-0.10,978.60) scale(1.0209,1)" font-size="26.47" font-weight="normal" font-style="normal" fill="#000">I</text>
<text transform="translate(12.83,979.84) scale(0.9486,1)" font-size="26.73" font-weight="normal" font-style="normal" fill="#000">+</text>
<text transform="translate(34.49,978.60) scale(0.6893,1)" font-size="26.47" font-weight="normal" font-style="normal" fill="#000">E</text>
<text transform="translate(53.33,979.84) scale(0.9486,1)" font-size="26.73" font-weight="normal" font-style="normal" fill="#000">+</text>
<text transform="translate(74.54,978.60) scale(0.8781,1)" font-size="26.47" font-weight="normal" font-style="normal" fill="#000">A</text>
<text transform="translate(229.56,978.60) scale(0.7033,1)" font-size="26.47" font-weight="normal" font-style="normal" fill="#000">E</text>
<text transform="translate(242.27,978.60) scale(1.1316,1)" font-size="25.12" font-weight="normal" font-style="normal" fill="#000">.</text>
<text transform="translate(250.24,978.60) scale(0.8838,1)" font-size="26.47" font-weight="normal" font-style="normal" fill="#000">A</text>
<text transform="translate(398.65,978.60) scale(0.7102,1)" font-size="26.47" font-weight="normal" font-style="normal" fill="#000">E</text>
<text transform="translate(417.83,980.04) scale(0.9486,1)" font-size="26.73" font-weight="normal" font-style="normal" fill="#000">+</text>
<text transform="translate(438.54,978.60) scale(0.8513,1)" font-size="26.47" font-weight="normal" font-style="normal" fill="#000">P</text>
<line x1="109.3" y1="968.4" x2="179.00" y2="968.4" stroke="#6a6a6a" stroke-width="1.5"/>
<polygon points="184.7,968.4 178.00,965.20 178.00,971.60" fill="#000"/>
<line x1="186.7" y1="975.3" x2="114.70" y2="975.3" stroke="#6a6a6a" stroke-width="1.5"/>
<polygon points="108.2,975.3 115.70,972.10 115.70,978.50" fill="#000"/>
<line x1="286.6" y1="971.9" x2="372.70" y2="971.9" stroke="#8e8e8e" stroke-width="1.9"/>
<polygon points="378.7,971.9 371.70,968.90 371.70,974.90" fill="#000"/>
<text transform="translate(132.58,960.90) scale(0.9029,1)" font-size="20.14" font-weight="normal" font-style="italic" fill="#000">k</text>
<text transform="translate(142.13,965.60) scale(0.9891,1)" font-size="13.09" font-weight="normal" font-style="normal" fill="#000">1</text>
<text transform="translate(129.40,996.60) scale(0.8553,1)" font-size="20.14" font-weight="normal" font-style="italic" fill="#000">k</text>
<text transform="translate(138.67,1001.10) scale(0.9198,1)" font-size="13.62" font-weight="normal" font-style="normal" fill="#000">2</text>
<text transform="translate(313.92,957.20) scale(0.8110,1)" font-size="19.59" font-weight="normal" font-style="italic" fill="#000">k</text>
<text transform="translate(322.65,961.57) scale(0.9914,1)" font-size="12.98" font-weight="normal" font-style="normal" fill="#000">cat</text>
<line x1="36.9" y1="1080.5" x2="36.9" y2="1004.30" stroke="#6a6a6a" stroke-width="1.5"/>
<polygon points="36.9,999 33.50,1005.30 40.30,1005.30" fill="#000"/>
<line x1="41.4" y1="1000.2" x2="41.4" y2="1073.10" stroke="#6a6a6a" stroke-width="1.5"/>
<polygon points="41.4,1079.3 38.00,1072.10 44.80,1072.10" fill="#000"/>
<text transform="translate(16.25,1038.60) scale(0.7541,1)" font-size="19.03" font-weight="normal" font-style="italic" fill="#000">k</text>
<text transform="translate(25.00,1043.60) scale(0.8292,1)" font-size="16.00" font-weight="normal" font-style="normal" fill="#000">4</text>
<text transform="translate(47.76,1042.20) scale(0.7085,1)" font-size="19.45" font-weight="normal" font-style="italic" fill="#000">k</text>
<text transform="translate(55.76,1046.65) scale(0.9555,1)" font-size="14.98" font-weight="normal" font-style="normal" fill="#000">3</text>
<text transform="translate(25.83,1113.80) scale(0.7292,1)" font-size="26.04" font-weight="normal" font-style="normal" fill="#000">E</text>
<text transform="translate(37.88,1113.80) scale(1.2096,1)" font-size="26.98" font-weight="normal" font-style="normal" fill="#000">.</text>
<text transform="translate(46.50,1113.80) scale(0.9550,1)" font-size="26.04" font-weight="normal" font-style="normal" fill="#000">I</text>
<text transform="translate(198.60,1113.80) scale(0.7434,1)" font-size="26.04" font-weight="normal" font-style="normal" fill="#000">E</text>
<text transform="translate(212.78,1111.02) scale(1.3272,1)" font-size="22.29" font-weight="normal" font-style="normal" fill="#000">*</text>
<text transform="translate(223.50,1113.80) scale(1.4828,1)" font-size="26.98" font-weight="normal" font-style="normal" fill="#000">.</text>
<text transform="translate(239.00,1113.80) scale(1.0380,1)" font-size="26.04" font-weight="normal" font-style="normal" fill="#000">I</text>
<line x1="75.7" y1="1104" x2="160.20" y2="1104" stroke="#6a6a6a" stroke-width="1.5"/>
<polygon points="166,1104 159.20,1100.70 159.20,1107.30" fill="#000"/>
<line x1="168.2" y1="1110.3" x2="80.20" y2="1110.3" stroke="#6a6a6a" stroke-width="1.5"/>
<polygon points="74.2,1110.3 81.20,1107.00 81.20,1113.60" fill="#000"/>
<text transform="translate(110.92,1096.50) scale(0.8345,1)" font-size="19.03" font-weight="normal" font-style="italic" fill="#000">k</text>
<text transform="translate(119.65,1101.17) scale(1.0605,1)" font-size="12.90" font-weight="normal" font-style="normal" fill="#000">5</text>
<text transform="translate(110.92,1129.50) scale(0.8345,1)" font-size="19.03" font-weight="normal" font-style="italic" fill="#000">k</text>
<text transform="translate(119.46,1133.85) scale(0.9907,1)" font-size="14.84" font-weight="normal" font-style="normal" fill="#000">6</text>
<text transform="translate(531.64,992.20) scale(0.8364,1)" font-size="22.40" font-weight="normal" font-style="italic" fill="#000">K</text>
<text transform="translate(542.60,996.80) scale(1.1829,1)" font-size="13.77" font-weight="normal" font-style="normal" fill="#000">m</text>
<rect x="561.8" y="982.8" width="9.7" height="1.9" fill="#000"/>
<rect x="561.8" y="987" width="9.7" height="1.9" fill="#000"/>
<text transform="translate(589.01,992.10) scale(0.7458,1)" font-size="22.07" font-weight="normal" font-style="italic" fill="#000">k</text>
<text transform="translate(597.75,996.40) scale(1.0689,1)" font-size="16.87" font-weight="normal" font-style="normal" fill="#000">1</text>
<text transform="translate(611.93,991.84) scale(1.2218,1)" font-size="17.55" font-weight="normal" font-style="normal" fill="#000">+</text>
<text transform="translate(629.59,992.10) scale(0.7978,1)" font-size="22.07" font-weight="normal" font-style="italic" fill="#000">k</text>
<text transform="translate(640.00,996.22) scale(0.8013,1)" font-size="17.71" font-weight="normal" font-style="normal" fill="#000">cat</text>
<rect x="573.3" y="999.9" width="90.4" height="2.0" fill="#1a1a1a"/>
<text transform="translate(610.46,1020.10) scale(0.9073,1)" font-size="21.52" font-weight="normal" font-style="italic" fill="#000">k</text>
<text transform="translate(620.99,1025.80) scale(0.9226,1)" font-size="15.48" font-weight="normal" font-style="normal" fill="#000">2</text>
<text transform="translate(532.27,1064.10) scale(0.9426,1)" font-size="22.40" font-weight="normal" font-style="italic" fill="#000">K</text>
<text transform="translate(543.72,1068.40) scale(1.0078,1)" font-size="16.14" font-weight="normal" font-style="italic" fill="#000">i</text>
<rect x="553.8" y="1056.8" width="9.9" height="1.9" fill="#000"/>
<rect x="553.8" y="1060.7" width="9.9" height="1.9" fill="#000"/>
<text transform="translate(580.74,1064.10) scale(0.9731,1)" font-size="21.24" font-weight="normal" font-style="italic" fill="#000">k</text>
<text transform="translate(591.18,1069.00) scale(0.9716,1)" font-size="16.15" font-weight="normal" font-style="italic" fill="#000">4</text>
<rect x="565.6" y="1070.9" width="41.6" height="2.1" fill="#1a1a1a"/>
<text transform="translate(579.56,1091.90) scale(0.8984,1)" font-size="21.52" font-weight="normal" font-style="italic" fill="#000">k</text>
<text transform="translate(589.61,1096.84) scale(1.0094,1)" font-size="15.55" font-weight="normal" font-style="italic" fill="#000">3</text>
<text transform="translate(531.72,1128.20) scale(0.8801,1)" font-size="21.96" font-weight="normal" font-style="italic" fill="#000">K</text>
<text transform="translate(543.42,1133.30) scale(1.2544,1)" font-size="12.97" font-weight="normal" font-style="italic" fill="#000">i</text>
<text transform="translate(549.17,1128.14) scale(1.1724,1)" font-size="21.14" font-weight="normal" font-style="normal" fill="#000">*</text>
<rect x="564.7" y="1120.3" width="9.9" height="1.9" fill="#000"/>
<rect x="564.7" y="1124.4" width="9.9" height="1.9" fill="#000"/>
<text transform="translate(581.47,1128.20) scale(0.7989,1)" font-size="21.96" font-weight="normal" font-style="italic" fill="#000">K</text>
<text transform="translate(593.01,1133.30) scale(1.2883,1)" font-size="12.97" font-weight="normal" font-style="italic" fill="#000">i</text>
<text transform="translate(601.53,1129.43) scale(0.9729,1)" font-size="22.04" font-weight="normal" font-style="normal" fill="#000">+</text>
<text transform="translate(624.37,1128.60) scale(0.8750,1)" font-size="21.66" font-weight="normal" font-style="italic" fill="#000">k</text>
<text transform="translate(634.17,1133.45) scale(1.0012,1)" font-size="14.98" font-weight="normal" font-style="italic" fill="#000">6</text>
<rect x="576" y="1135.9" width="73.4" height="2.0" fill="#1a1a1a"/>
<text transform="translate(578.90,1156.50) scale(0.8125,1)" font-size="20.97" font-weight="normal" font-style="italic" fill="#000">k</text>
<text transform="translate(588.87,1160.56) scale(1.0169,1)" font-size="14.34" font-weight="normal" font-style="italic" fill="#000">5</text>
<text transform="translate(601.72,1157.29) scale(1.0608,1)" font-size="20.41" font-weight="normal" font-style="normal" fill="#000">+</text>
<text transform="translate(619.78,1156.50) scale(0.8672,1)" font-size="20.97" font-weight="normal" font-style="italic" fill="#000">k</text>
<text transform="translate(629.73,1160.85) scale(1.0853,1)" font-size="14.56" font-weight="normal" font-style="italic" fill="#000">6</text>
</g>
</svg>
</body></html>
